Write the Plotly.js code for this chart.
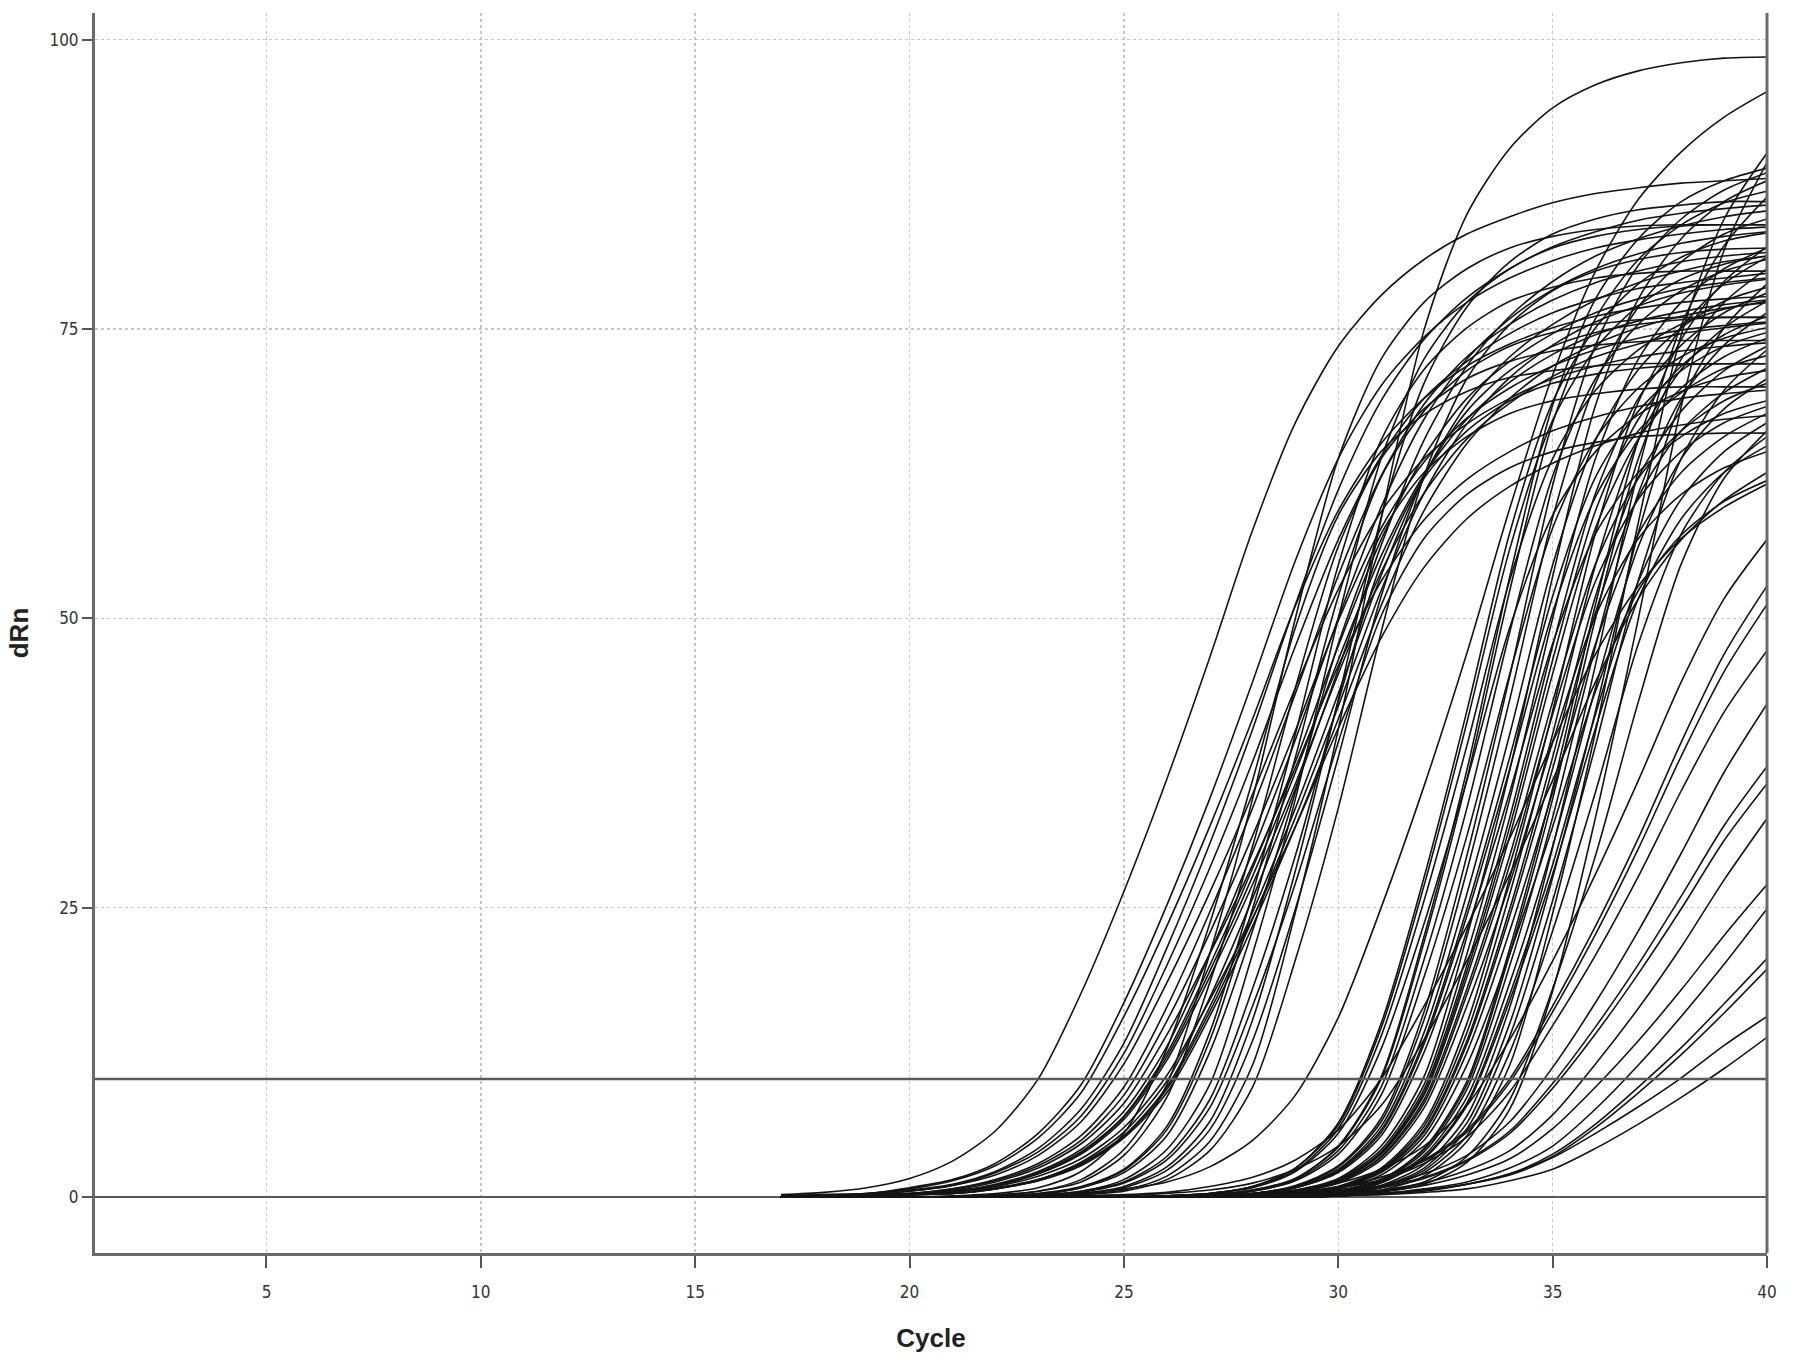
<!DOCTYPE html>
<html>
<head>
<meta charset="utf-8">
<script src="https://cdn.plot.ly/plotly-3.0.1.min.js"></script>
<style>
  html, body { margin: 0; padding: 0; background: #ffffff; }
  #chart { width: 1795px; height: 1363px; }
</style>
</head>
<body>
<div id="chart"></div>
<script>
// Amplification cycles (x values shared by every curve)
const cycles = [17,18,19,20,21,22,23,24,25,26,27,28,29,30,31,32,33,34,35,36,37,38,39,40];

// Threshold level (dRn)
const threshold = 10.2;

// Early-amplifying wells (Ct ~23-28), dRn per cycle
const earlyCurves = [
  [0.2,0.4,0.8,1.6,3.1,5.7,10.2,17.6,26.4,36.1,46.6,57.6,66.9,73.5,77.9,81.0,83.2,84.7,85.9,86.7,87.2,87.6,87.8,88.0],
  [0.1,0.2,0.3,0.8,1.5,2.9,5.5,9.7,16.8,25.2,34.4,44.5,55.0,63.8,70.1,74.3,77.3,79.4,80.9,82.0,82.7,83.2,83.6,83.8],
  [0.1,0.2,0.3,0.7,1.4,2.7,5.1,9.0,15.6,23.4,32.0,41.3,51.1,59.3,65.1,69.0,71.8,73.7,75.1,76.1,76.8,77.3,77.6,77.8],
  [0,0.1,0.3,0.6,1.1,2.2,4.2,7.6,13.3,21.5,30.5,40.4,51.2,61.1,68.8,74.1,77.7,80.2,82.1,83.4,84.4,85.0,85.4,85.7],
  [0,0.1,0.2,0.5,1.0,1.9,3.6,6.5,11.5,18.5,26.3,34.8,44.0,52.5,59.2,63.8,66.8,69.0,70.7,71.8,72.6,73.1,73.5,73.8],
  [0,0.1,0.2,0.3,0.7,1.5,2.9,5.3,9.5,16.4,24.6,33.6,43.5,53.7,62.3,68.5,72.6,75.4,77.5,79.0,80.0,80.8,81.3,81.6],
  [0,0.1,0.1,0.3,0.6,1.3,2.5,4.6,8.1,14.0,21.0,28.7,37.1,45.9,53.2,58.5,62.0,64.4,66.2,67.4,68.3,69.0,69.4,69.7],
  [0,0,0.1,0.2,0.5,1.0,2.1,3.9,7.0,12.4,20.0,28.4,37.6,47.6,56.8,64.0,69.0,72.2,74.6,76.4,77.6,78.5,79.0,79.4],
  [0,0,0.1,0.2,0.5,1.0,2.0,3.7,6.7,11.8,19.0,27.0,35.7,45.2,54.0,60.8,65.5,68.6,70.9,72.6,73.7,74.6,75.1,75.5],
  [0,0,0.1,0.2,0.4,0.9,1.8,3.3,6.0,10.5,17.0,24.1,32.0,40.5,48.3,54.4,58.6,61.4,63.4,64.9,66.0,66.7,67.2,67.5],
  [0,0,0.1,0.3,0.5,1.1,2.2,4.1,7.4,13.0,21.0,29.8,39.5,50.0,59.6,67.2,72.4,75.9,78.4,80.2,81.5,82.4,83.0,83.4],
  [0,0,0.1,0.2,0.3,0.7,1.4,2.7,5.1,9.0,15.6,23.4,32.0,41.3,51.1,59.3,65.1,69.0,71.8,73.7,75.1,76.1,76.8,77.3],
  [0,0,0,0,0,0.1,0.5,1.3,3.6,8.6,18.5,30.3,44.0,56.2,63.8,68.1,70.7,72.2,73.1,73.6,73.9,74.0,74.0,74.0],
  [0,0,0.1,0.2,0.3,0.8,1.5,3.0,5.6,10.0,17.2,25.8,35.3,45.6,56.3,65.4,71.8,76.1,79.1,81.3,82.8,83.9,84.7,85.2],
  [0,0,0,0,0,0.1,0.3,0.9,2.4,6.1,14.2,26.2,40.0,54.6,65.4,71.5,75.1,77.4,78.6,79.4,79.8,80.0,80.0,80.0],
  [0,0,0,0,0,0.1,0.2,0.8,2.1,5.3,12.5,23.0,35.0,47.8,57.3,62.6,65.7,67.7,68.8,69.4,69.8,70.0,70.0,70.0],
  [0,0,0,0,0,0,0.1,0.5,1.3,3.5,8.4,18.0,29.5,42.8,54.7,62.1,66.2,68.8,70.3,71.1,71.6,71.9,72.0,72.0],
  [0,0,0,0,0,0,0.2,0.5,1.5,4.1,9.7,21.0,34.4,50.0,63.8,72.4,77.3,80.2,82.0,83.0,83.6,83.9,84.0,84.0],
  [0,0,0,0,0,0,0.1,0.4,1.2,3.2,7.7,16.5,27.1,39.3,50.2,56.9,60.7,63.0,64.4,65.2,65.7,65.9,66.0,66.0],
  [0,0,0,0,0,0,0.1,0.3,0.8,2.3,5.8,13.5,24.9,38.0,51.9,62.2,67.9,71.4,73.5,74.7,75.4,75.8,76.0,76.0],
  [0,0,0,0,0,0,0,0.2,0.5,1.5,4.0,9.5,20.5,33.6,48.8,62.3,70.7,75.4,78.3,80.0,81.0,81.6,81.9,82.0],
  [0,0,0,0,0,0,0.1,0.3,0.9,2.6,6.5,15.3,28.2,43.0,58.7,70.3,76.9,80.8,83.2,84.5,85.3,85.7,86.0,86.0],
  [0,0,0.1,0.2,0.3,0.7,1.4,2.8,5.2,9.3,16.0,24.0,32.8,42.4,52.4,60.8,66.8,70.8,73.6,75.6,77.0,78.1,78.8,79.3],
  [0,0.1,0.2,0.5,1.0,2.1,3.9,7.0,12.4,20.0,28.4,37.6,47.6,56.8,64.0,69.0,72.2,74.6,76.4,77.6,78.5,79.0,79.4,79.8],
  [0,0.1,0.2,0.3,0.7,1.4,2.7,4.9,8.8,15.2,22.8,31.2,40.3,49.8,57.8,63.5,67.3,69.9,71.8,73.2,74.2,74.9,75.3,75.6],
  [0,0,0,0,0,0.2,0.5,1.5,4.1,9.7,21.0,34.4,50.0,63.8,72.4,77.3,80.2,82.0,83.0,83.6,83.9,84.0,84.0,84.0],
  [0,0,0,0,0,0.1,0.3,0.8,2.3,5.8,13.5,24.9,38.0,51.9,62.2,67.9,71.4,73.5,74.7,75.4,75.8,76.0,76.0,76.0],
  [0,0,0.1,0.2,0.5,1.0,2.0,3.8,6.9,12.1,19.5,27.7,36.7,46.4,55.4,62.4,67.2,70.4,72.8,74.5,75.7,76.5,77.1,77.5],
  [0,0,0.1,0.2,0.3,0.7,1.5,2.9,5.3,9.5,16.4,24.6,33.6,43.5,53.7,62.3,68.5,72.6,75.4,77.5,79.0,80.0,80.8,81.3],
  [0,0,0,0,0.1,0.3,0.8,2.2,5.5,12.8,23.6,36.0,49.2,58.9,64.4,67.6,69.6,70.8,71.4,71.8,72.0,72.0,72.0,72.0]
];

// Mid wells (Ct ~28-34.5)
const midCurves = [
  [0,0,0,0,0,0,0,0.2,0.6,1.8,4.8,11.4,24.6,40.4,58.6,74.9,84.9,90.6,94.1,96.1,97.3,98.0,98.4,98.5],
  [0,0,0,0,0,0,0.2,0.3,0.7,1.3,2.6,4.9,8.8,15.5,25.0,35.5,47.0,59.5,71.0,80.0,86.2,90.3,93.3,95.5],
  [0,0,0,0,0,0,0,0,0,0.1,0.3,0.9,2.5,6.4,15.0,27.6,42.0,57.4,68.7,75.1,78.9,81.2,82.6,83.3],
  [0,0,0,0,0,0,0,0,0,0.1,0.3,0.9,2.3,5.9,13.9,25.6,39.0,53.3,63.8,69.7,73.2,75.4,76.7,77.4],
  [0,0,0,0,0,0,0,0,0,0,0.2,0.6,1.6,4.4,10.4,22.5,36.9,53.6,68.4,77.6,82.8,86.0,87.8,88.9],
  [0,0,0,0,0,0,0,0,0,0.1,0.3,0.9,2.5,6.2,14.6,26.9,41.0,56.0,67.1,73.3,77.0,79.3,80.6,81.3],
  [0,0,0,0,0,0,0,0,0,0.1,0.3,0.8,2.2,5.5,12.8,23.6,36.0,49.2,58.9,64.4,67.6,69.6,70.8,71.4],
  [0,0,0,0,0,0,0,0,0,0,0.2,0.6,1.6,4.3,10.2,22.0,36.1,52.4,66.9,75.9,81.0,84.0,85.9,86.9],
  [0,0,0,0,0,0,0,0,0,0,0.2,0.5,1.4,3.7,8.8,19.0,31.2,45.2,57.8,65.5,69.9,72.6,74.2,75.1],
  [0,0,0,0,0,0,0,0.1,0.1,0.3,0.6,1.2,2.4,4.4,7.9,13.6,20.4,27.9,36.0,44.5,51.7,56.8,60.2,62.6],
  [0,0,0,0,0,0,0,0,0,0,0.1,0.3,0.9,2.6,6.5,15.3,28.2,43.0,58.7,70.3,76.9,80.8,83.2,84.5],
  [0,0,0,0,0,0,0,0,0,0,0.1,0.3,0.9,2.4,6.1,14.2,26.2,40.0,54.6,65.4,71.5,75.1,77.4,78.6],
  [0,0,0,0,0,0,0,0,0,0,0.1,0.3,0.8,2.2,5.6,13.2,24.3,37.0,50.5,60.5,66.2,69.5,71.6,72.7],
  [0,0,0,0,0,0,0,0,0,0,0.1,0.2,0.8,2.1,5.3,12.5,23.0,35.0,47.8,57.3,62.6,65.7,67.7,68.8],
  [0,0,0,0,0,0,0,0,0,0,0,0.2,0.6,1.6,4.4,10.4,22.5,36.9,53.6,68.4,77.6,82.8,86.0,87.8],
  [0,0,0,0,0,0,0,0,0,0,0,0.2,0.5,1.4,3.8,9.0,19.5,32.0,46.4,59.3,67.2,71.8,74.5,76.1],
  [0,0,0,0,0,0,0,0,0,0,0,0.1,0.5,1.3,3.5,8.4,18.0,29.5,42.8,54.7,62.1,66.2,68.8,70.3],
  [0,0,0,0,0,0,0,0,0,0,0,0.1,0.4,1.2,3.2,7.7,16.5,27.1,39.3,50.2,56.9,60.7,63.0,64.4],
  [0,0,0,0,0,0,0,0,0,0,0,0.1,0.3,0.9,2.5,6.4,15.0,27.6,42.0,57.4,68.7,75.1,78.9,81.2],
  [0,0,0,0,0,0,0,0,0,0,0,0.1,0.3,0.8,2.3,5.8,13.5,24.9,38.0,51.9,62.2,67.9,71.4,73.5],
  [0,0,0,0,0,0,0,0,0,0,0,0.1,0.2,0.8,2.1,5.3,12.5,23.0,35.0,47.8,57.3,62.6,65.7,67.7],
  [0,0,0,0,0,0,0,0,0,0,0,0.1,0.2,0.7,1.9,4.9,11.4,21.0,32.0,43.7,52.4,57.2,60.1,61.9],
  [0,0,0,0,0,0,0,0,0,0,0,0,0.2,0.5,1.4,3.9,9.3,20.0,32.8,47.6,60.8,69.0,73.6,76.4],
  [0,0,0,0,0,0,0,0,0,0,0,0,0.1,0.5,1.3,3.6,8.6,18.5,30.3,44.0,56.2,63.8,68.1,70.7],
  [0,0,0,0,0,0,0,0,0,0,0,0,0.1,0.4,1.2,3.3,7.9,17.0,27.9,40.5,51.7,58.6,62.6,64.9],
  [0,0,0,0,0,0,0,0,0,0,0,0,0.1,0.3,0.9,2.3,5.9,13.9,25.6,39.0,53.3,63.8,69.7,73.2],
  [0,0,0,0,0,0,0,0,0,0,0,0,0.1,0.2,0.8,2.1,5.3,12.5,23.0,35.0,47.8,57.3,62.6,65.7],
  [0,0,0,0,0,0,0,0,0,0,0.1,0.2,0.4,0.8,1.7,3.1,5.6,9.9,16.0,22.7,30.1,38.1,45.4,51.2],
  [0,0,0,0,0,0,0,0,0,0,0,0,0,0.2,0.6,1.8,4.8,11.4,24.5,40.2,58.3,74.5,84.5,90.2],
  [0,0,0,0,0,0,0,0,0,0,0,0,0,0.1,0.5,1.3,3.5,8.4,18.0,29.5,42.8,54.7,62.1,66.2],
  [0,0,0,0,0,0,0,0,0,0,0,0,0,0.1,0.4,1.1,3.0,7.6,17.8,32.8,50.0,68.3,81.8,89.4],
  [0,0,0,0,0,0,0,0,0,0,0,0,0.2,0.6,1.5,4.2,10.0,21.5,35.3,51.2,65.4,74.1,79.1,82.1],
  [0,0,0,0,0,0,0,0,0,0,0,0.2,0.5,1.5,4.1,9.7,21.0,34.4,50.0,63.8,72.4,77.3,80.2,82.0],
  [0,0,0,0,0,0,0,0,0,0,0.2,0.5,1.5,4.0,9.5,20.5,33.6,48.8,62.3,70.7,75.4,78.3,80.0,81.0],
  [0,0,0,0,0,0,0,0.1,0.2,0.4,0.9,1.7,3.2,5.8,10.2,16.5,23.4,31.0,39.3,46.9,52.8,56.9,59.6,61.6],
  [0,0,0,0,0,0,0,0,0,0,0,0,0.1,0.3,1.0,2.8,7.0,16.4,30.2,46.0,62.8,75.3,82.2,86.4],
  [0,0,0,0,0,0,0,0,0,0,0,0.1,0.3,0.9,2.4,6.1,14.2,26.2,40.0,54.6,65.4,71.5,75.1,77.4],
  [0,0,0,0,0,0,0,0,0,0,0,0.2,0.5,1.4,3.7,8.8,19.0,31.2,45.2,57.8,65.5,69.9,72.6,74.2],
  [0,0,0,0,0,0,0,0,0,0,0,0,0.1,0.5,1.3,3.4,8.1,17.5,28.7,41.7,53.2,60.3,64.4,66.9],
  [0,0,0,0,0,0,0,0,0,0,0.1,0.3,1.0,2.7,6.8,16.0,29.5,45.0,61.5,73.6,80.5,84.5,87.0,88.5],
  [0,0,0,0,0,0,0,0,0,0,0,0.2,0.5,1.4,3.9,9.3,20.0,32.8,47.6,60.8,69.0,73.6,76.4,78.1],
  [0,0,0,0,0,0,0,0,0,0,0,0.1,0.3,0.8,2.2,5.6,13.2,24.3,37.0,50.5,60.5,66.2,69.5,71.6],
  [0,0,0,0,0,0,0,0,0,0,0,0,0.2,0.5,1.5,4.1,9.7,21.0,34.4,50.0,63.8,72.4,77.3,80.2],
  [0,0,0,0,0,0,0,0,0,0,0.1,0.3,0.8,2.3,5.8,13.5,24.9,38.0,51.9,62.2,67.9,71.4,73.5,74.7],
  [0,0,0,0,0,0,0,0,0,0,0,0.1,0.5,1.3,3.4,8.1,17.5,28.7,41.7,53.2,60.3,64.4,66.9,68.3],
  [0,0,0,0,0,0,0,0,0,0,0,0,0.1,0.3,0.9,2.5,6.4,15.0,27.6,42.0,57.4,68.7,75.1,78.9]
];

// Late wells (Ct ~34-38.6)
const lateCurves = [
  [0,0,0,0,0,0,0,0,0,0,0,0,0,0.1,0.2,0.4,0.7,1.4,2.4,4.2,6.3,8.6,11.1,13.8],
  [0,0,0,0,0,0,0,0,0,0,0,0,0,0.1,0.3,0.6,1.1,1.9,3.4,5.5,7.8,10.3,13.1,15.6],
  [0,0,0,0,0,0,0,0,0,0,0,0,0,0.1,0.3,0.5,1.1,2.0,3.5,6.0,9.0,12.3,15.9,19.7],
  [0,0,0,0,0,0,0,0,0,0,0,0,0,0.1,0.3,0.6,1.1,2.0,3.7,6.3,9.5,12.9,16.7,20.6],
  [0,0,0,0,0,0,0,0,0,0,0,0,0,0.2,0.3,0.7,1.3,2.5,4.4,7.6,11.4,15.6,20.1,24.9],
  [0,0,0,0,0,0,0,0,0,0,0,0,0,0.2,0.5,1.0,1.9,3.3,5.9,9.5,13.5,17.9,22.6,27.0],
  [0,0,0,0,0,0,0,0,0,0,0,0,0.1,0.3,0.6,1.2,2.3,4.0,7.1,11.5,16.3,21.6,27.4,32.7],
  [0,0,0,0,0,0,0,0,0,0,0,0,0.2,0.4,0.8,1.6,3.1,5.5,9.4,14.1,19.3,24.9,30.8,35.7],
  [0,0,0,0,0,0,0,0,0,0,0,0.1,0.2,0.4,0.9,1.7,3.2,5.7,9.8,14.7,20.1,26.0,32.1,37.2],
  [0,0,0,0,0,0,0,0,0,0,0.1,0.1,0.2,0.5,1.0,2.0,3.6,6.5,11.2,16.8,23.0,29.7,36.7,42.6],
  [0,0,0,0,0,0,0,0,0,0,0.1,0.2,0.4,0.8,1.5,2.9,5.2,9.1,14.8,20.9,27.7,35.1,41.9,47.2],
  [0,0,0,0,0,0,0,0,0,0,0.1,0.2,0.4,0.9,1.7,3.2,5.8,10.2,16.5,23.4,31.0,39.3,46.9,52.8],
  [0,0,0,0,0,0,0,0,0,0.1,0.1,0.3,0.6,1.2,2.4,4.4,7.9,13.6,20.4,27.9,36.0,44.5,51.7,56.8]
];

// Axis tick values
const xTicks = [5,10,15,20,25,30,35,40];
const yTicks = [0,25,50,75,100];

const allCurves = earlyCurves.concat(midCurves, lateCurves);
const traces = allCurves.map(function (vals) {
  return {
    type: 'scatter',
    mode: 'lines',
    x: cycles,
    y: vals,
    line: { color: '#141414', width: 1.6, shape: 'spline', smoothing: 0.8 },
    hoverinfo: 'skip',
    showlegend: false
  };
});

const tickFont = { family: '"Liberation Sans Narrow", "DejaVu Sans Condensed", "Arial Narrow", sans-serif', size: 17, color: '#333333' };
const titleFont = { family: '"Liberation Sans", Arial, sans-serif', size: 26, color: '#222222', weight: 'bold' };

const layout = {
  width: 1795,
  height: 1363,
  paper_bgcolor: '#ffffff',
  plot_bgcolor: '#ffffff',
  margin: { l: 95, r: 28, t: 13, b: 110 },
  showlegend: false,
  xaxis: {
    range: [1, 40],
    tickmode: 'array',
    tickvals: xTicks,
    ticktext: xTicks.map(String),
    ticks: 'outside',
    ticklen: 12,
    tickwidth: 2,
    tickcolor: '#555555',
    tickfont: tickFont,
    ticklabelstandoff: 10,
    showline: true,
    linecolor: '#6a6a6a',
    linewidth: 3,
    showgrid: true,
    gridcolor: '#c8c8c8',
    gridwidth: 1.5,
    griddash: 'dot',
    zeroline: false,
    title: { text: 'Cycle', font: titleFont, standoff: 28 }
  },
  yaxis: {
    range: [-4.84, 102.3],
    tickmode: 'array',
    tickvals: yTicks,
    ticktext: yTicks.map(String),
    ticks: 'outside',
    ticklen: 10,
    tickwidth: 2,
    tickcolor: '#555555',
    tickfont: tickFont,
    showline: true,
    linecolor: '#6a6a6a',
    linewidth: 3,
    showgrid: true,
    gridcolor: '#c8c8c8',
    gridwidth: 1.5,
    griddash: 'dot',
    zeroline: true,
    zerolinecolor: '#5a5a5a',
    zerolinewidth: 2.5,
    title: { text: 'dRn', font: titleFont, standoff: 14 }
  },
  shapes: [
    { type: 'line', xref: 'paper', yref: 'y', x0: 0, x1: 1, y0: threshold, y1: threshold,
      line: { color: '#5a5a5a', width: 2.5 }, layer: 'above' },
    { type: 'line', xref: 'paper', yref: 'paper', x0: 1, x1: 1, y0: 0, y1: 1,
      line: { color: '#6a6a6a', width: 3 }, layer: 'above' }
  ]
};

Plotly.newPlot('chart', traces, layout, { displayModeBar: false, staticPlot: true });
</script>
</body>
</html>
